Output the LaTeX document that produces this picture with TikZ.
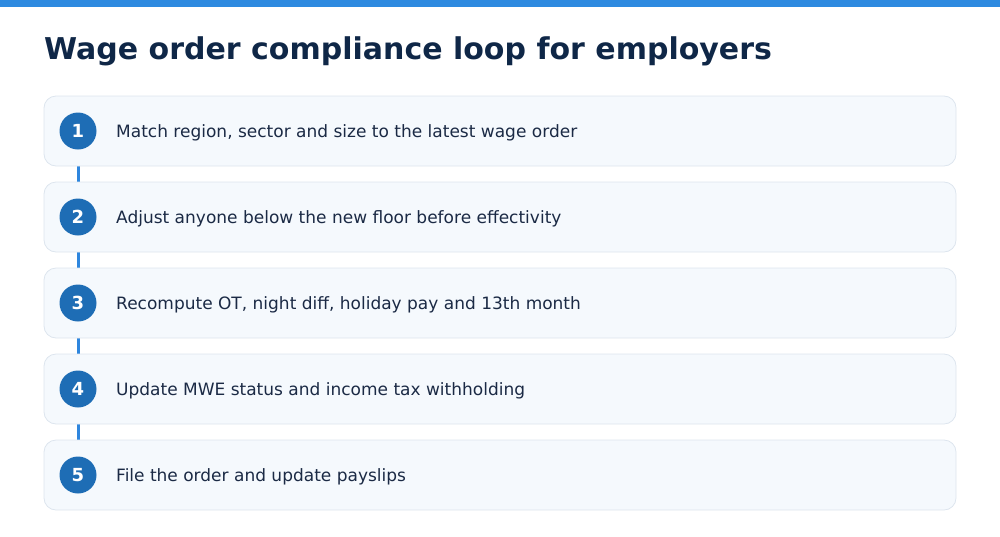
\documentclass[tikz,border=0pt]{standalone}
\usepackage{fontspec}
\setmainfont{DejaVu Sans}
\usetikzlibrary{backgrounds}
\definecolor{barblue}{HTML}{2E8AE0}
\definecolor{titleblue}{HTML}{0F2747}
\definecolor{cardfill}{HTML}{F5F9FD}
\definecolor{cardline}{HTML}{DDE5EE}
\definecolor{numblue}{HTML}{1E6DB5}
\definecolor{linkblue}{HTML}{2E86DE}
\definecolor{bodytext}{HTML}{1B2A45}
\tikzset{
  card/.style={draw=cardline, fill=cardfill, line width=0.8pt, rounded corners=12pt,
    minimum width=912pt, minimum height=70pt, inner sep=0pt},
  badge/.style={circle, fill=numblue, minimum size=37pt, inner sep=0pt,
    text=white, font=\fontsize{18}{21}\selectfont\bfseries},
  steptext/.style={anchor=base west, text=bodytext, font=\fontsize{17}{20}\selectfont, inner sep=0pt},
  link/.style={draw=linkblue, line width=3pt}
}
\begin{document}
\begin{tikzpicture}[x=1pt,y=-1pt]
\useasboundingbox (0,0) rectangle (1000,536);
\fill[barblue] (0,0) rectangle (1000,7);
\node[anchor=base west, text=titleblue, inner sep=0pt,
  font=\fontsize{30}{36}\selectfont\bfseries] (title) at (44,59) {Wage order compliance loop for employers};
% steps
\foreach \i/\txt in {1/Match region{,} sector and size to the latest wage order,
                     2/Adjust anyone below the new floor before effectivity,
                     3/{Recompute OT, night diff, holiday pay and 13th month},
                     4/Update MWE status and income tax withholding,
                     5/File the order and update payslips}{
  \node[card] (card\i) at (500,{131+86*(\i-1)}) {};
  \node[badge] (num\i) at (78,{131+86*(\i-1)}) {\i};
  \node[steptext] (txt\i) at (116,{137+86*(\i-1)}) {\txt};
}
\begin{scope}[on background layer]
\foreach \i [evaluate=\i as \j using int(\i+1)] in {1,...,4}
  \draw[link] (num\i) -- (num\j);
\end{scope}
\end{tikzpicture}
\end{document}
